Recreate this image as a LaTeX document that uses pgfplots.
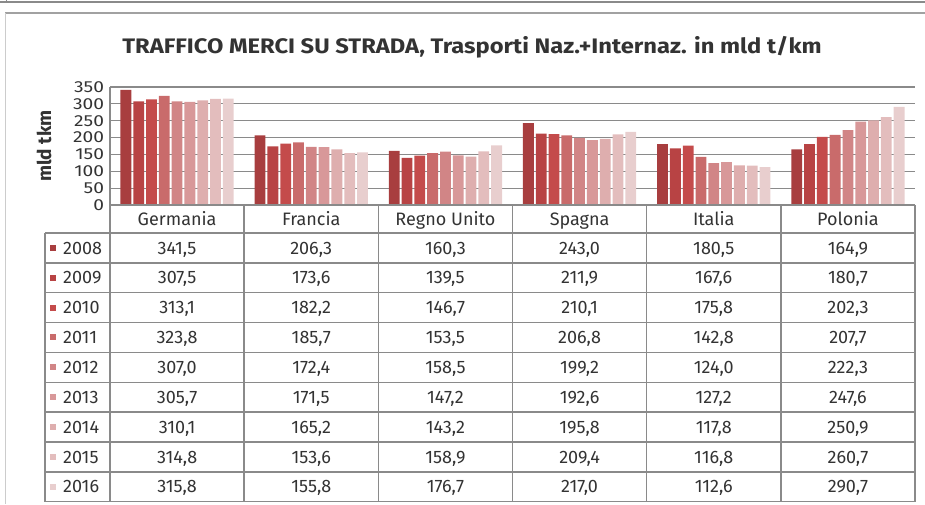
\documentclass[border=0pt]{standalone}
\usepackage{fontspec}
\setmainfont{Fira Sans}
\usepackage{pgfplots}
\usepackage{pgfplotstable}
\pgfplotsset{compat=1.18}

\definecolor{c2008}{HTML}{A83E3F}
\definecolor{c2009}{HTML}{B84344}
\definecolor{c2010}{HTML}{C44B4B}
\definecolor{c2011}{HTML}{C96B6B}
\definecolor{c2012}{HTML}{D18586}
\definecolor{c2013}{HTML}{D89899}
\definecolor{c2014}{HTML}{DEAEAE}
\definecolor{c2015}{HTML}{E3BDBD}
\definecolor{c2016}{HTML}{E8CECE}
\definecolor{rule}{HTML}{8A8A8A}
\definecolor{ink}{HTML}{333333}

% one row per country, one column per year
\pgfplotstableread{
x name y2008 y2009 y2010 y2011 y2012 y2013 y2014 y2015 y2016
0 Germania 341.5 307.5 313.1 323.8 307.0 305.7 310.1 314.8 315.8
1 Francia 206.3 173.6 182.2 185.7 172.4 171.5 165.2 153.6 155.8
2 {Regno Unito} 160.3 139.5 146.7 153.5 158.5 147.2 143.2 158.9 176.7
3 Spagna 243.0 211.9 210.1 206.8 199.2 192.6 195.8 209.4 217.0
4 Italia 180.5 167.6 175.8 142.8 124.0 127.2 117.8 116.8 112.6
5 Polonia 164.9 180.7 202.3 207.7 222.3 247.6 250.9 260.7 290.7
}\data

\begin{document}
\begin{tikzpicture}[x=1pt,y=1pt]
\useasboundingbox (0,0) rectangle (925,504);

% outer frame
\draw[rule, line width=2pt] (0,502) -- (925,502);
\draw[rule, line width=1pt] (6,504) -- (6,502);
\draw[rule!80, line width=2.4pt] (5,491) -- (925,491);
\draw[black!20, line width=1pt] (5,491) -- (5,0);

\node[ink, xscale=1.13, font=\fontsize{21}{24}\selectfont\bfseries] at (472,457)
  {TRAFFICO MERCI SU STRADA, Trasporti Naz.+Internaz. in mld t/km};

\begin{axis}[
    at={(110pt,299pt)}, anchor=south west,
    scale only axis, width=805pt, height=118pt,
    xmin=-0.5, xmax=5.5, ymin=0, ymax=350,
    ybar=2pt, bar width=10.8pt,
    xtick=\empty,
    ytick={0,50,...,350},
    ymajorgrids, grid style={rule, line width=1.2pt},
    axis x line=none,
    axis y line=left,
    y axis line style={rule, line width=1.2pt, -},
    ytick style={draw=none},
    yticklabel style={font=\fontsize{16}{16}\selectfont, ink, inner sep=0pt,
      xscale=1.2, xshift=-3pt},
    /pgf/number format/assume math mode=true,
    ylabel={\textbf{mld tkm}},
    ylabel style={font=\fontsize{19}{20}\selectfont, ink, anchor=center,
      at={(axis description cs:-0.082,0.5)}},
    clip=false,
]
\foreach \y in {2008,...,2016} {
  \edef\tmp{\noexpand\addplot[fill=c\y, draw=none] table[x=x, y=y\y] {\noexpand\data};}
  \tmp
}
\draw[rule, line width=1.2pt] (axis cs:-0.5,350) -- (axis cs:5.5,350);
\end{axis}

% data table
\def\cw{134.1667}
\def\rh{29.85}
\draw[rule, line width=1.5pt] (110,299) -- (915,299);
\draw[rule, line width=1.5pt] (45,271) -- (915,271);
\foreach \r in {1,...,9}
  \draw[rule, line width=1.5pt] (45,{271-\r*\rh}) -- (915,{271-\r*\rh});
\foreach \c in {0,...,6}
  \draw[rule, line width=1.5pt] ({110+\c*\cw},299) -- ({110+\c*\cw},{271-9*\rh});
\draw[rule, line width=1.5pt] (45,271) -- (45,{271-9*\rh});

\tikzset{cell/.style={ink, font=\fontsize{18}{20}\selectfont, anchor=base, inner sep=0pt}}
\foreach \c in {0,...,5} {
  \pgfplotstablegetelem{\c}{name}\of\data
  \node[cell] at ({110+(\c+0.5)*\cw},{285-6.2}) {\pgfplotsretval};
  \foreach \y [count=\r from 0] in {2008,...,2016} {
    \pgfplotstablegetelem{\c}{y\y}\of\data
    \node[cell] at ({110+(\c+0.5)*\cw},{271-(\r+0.5)*\rh-6.2})
      {\pgfmathprintnumber[fixed, fixed zerofill, precision=1, use comma,
        assume math mode=true]{\pgfplotsretval}};
  }
}
\foreach \y [count=\r from 0] in {2008,...,2016} {
  \fill[c\y] (50,{271-(\r+0.5)*\rh-3}) rectangle ++(6,6);
  \node[cell, anchor=base west] at (63,{271-(\r+0.5)*\rh-6.2}) {\y};
}
\end{tikzpicture}
\end{document}
